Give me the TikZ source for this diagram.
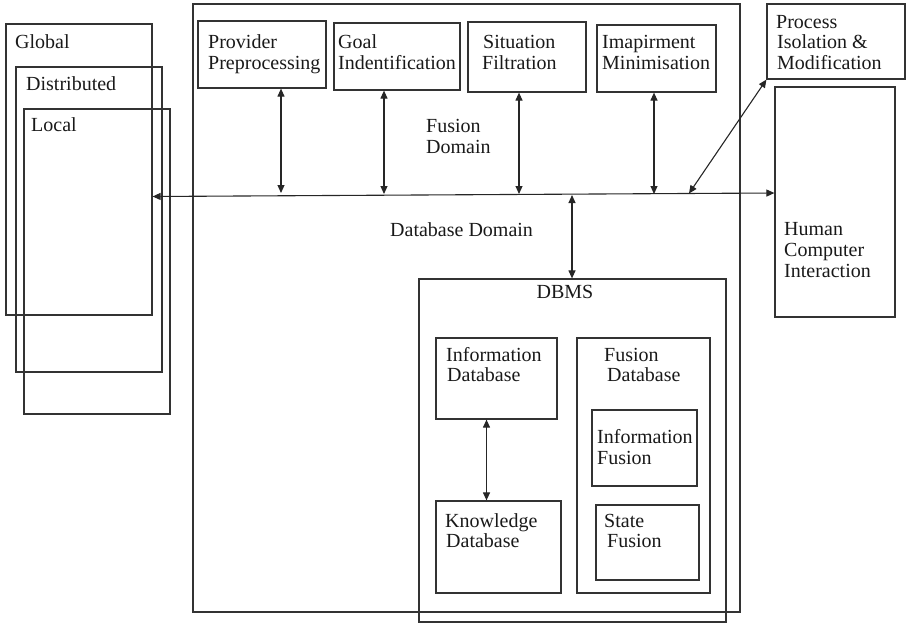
\documentclass[tikz,border=0pt]{standalone}
\usepackage{fontspec}
\setmainfont{Liberation Serif}
\usetikzlibrary{arrows.meta}
\begin{document}
\begin{tikzpicture}[x=1pt,y=-1pt,
  box/.style={draw=black!80, line width=1.2pt, inner sep=0pt, fill=none},
  lbl/.style={anchor=base west, inner sep=0pt, font=\fontsize{20}{21}\selectfont, text=black!90},
  clbl/.style={anchor=base, inner sep=0pt, font=\fontsize{20}{21}\selectfont, text=black!90},
  biarrow/.style={draw=black!85, line width=1.1pt, {Triangle[length=8pt,width=7pt]}-{Triangle[length=8pt,width=7pt]}},
  onearrow/.style={draw=black!85, line width=1.1pt, -{Triangle[length=8pt,width=7pt]}}]
\useasboundingbox (0,0) rectangle (907,624);
\newcommand\mybox[6]{\node[box, minimum width=#4pt, minimum height=#5pt] (#1) at (#2,#3) {#6};}
\newcommand\mylbl[4]{\node[lbl] (#1) at (#2,#3) {#4};}
% left stack
\mybox{global}{79}{169.5}{146}{291}{}
\mybox{distr}{89}{219.5}{146}{305}{}
\mybox{local}{97}{261.5}{146}{305}{}
\mylbl{tglobal}{15}{48}{Global}
\mylbl{tdistr}{26}{90}{Distributed}
\mylbl{tlocal}{31}{131}{Local}
% main box
\mybox{main}{466.5}{308}{547}{608}{}
% top modules
\mybox{prov}{262}{54.5}{128}{67}{}
\mybox{goal}{397}{56.5}{126}{67}{}
\mybox{sit}{527}{57}{118}{70}{}
\mybox{imp}{656.5}{58.5}{119}{67}{}
\mylbl{tprova}{208}{48}{Provider}
\mylbl{tprovb}{208}{69}{Preprocessing}
\mylbl{tgoala}{338}{48}{Goal}
\mylbl{tgoalb}{338}{69}{Indentification}
\mylbl{tsita}{483}{48}{Situation}
\mylbl{tsitb}{482}{69}{Filtration}
\mylbl{timpa}{602}{48}{Imapirment}
\mylbl{timpb}{602}{69}{Minimisation}
\mylbl{tfda}{426}{132}{Fusion}
\mylbl{tfdb}{426}{153}{Domain}
\mylbl{tdbd}{390}{236}{Database Domain}
% right side
\mybox{proc}{836}{41.5}{138}{75}{}
\mybox{hci}{835}{202}{120}{230}{}
\mylbl{tproca}{776}{28}{Process}
\mylbl{tprocb}{777}{48}{Isolation \&}
\mylbl{tprocc}{777}{69}{Modification}
\mylbl{thcia}{784}{235}{Human}
\mylbl{thcib}{784}{256}{Computer}
\mylbl{thcic}{784}{277}{Interaction}
% DBMS
\mybox{dbms}{572.5}{450.5}{307}{343}{}
\node[clbl] (tdbms) at (565,298) {DBMS};
\mybox{infodb}{496.5}{378.5}{121}{81}{}
\mybox{know}{498.5}{547}{125}{92}{}
\mybox{fusdb}{643.5}{465.5}{133}{255}{}
\mybox{infofus}{644.5}{448}{105}{76}{}
\mybox{state}{647.5}{542.5}{103}{75}{}
\mylbl{tinfoa}{446}{361}{Information}
\mylbl{tinfob}{447}{381}{Database}
\mylbl{tknowa}{445}{527}{Knowledge}
\mylbl{tknowb}{446}{547}{Database}
\mylbl{tfusa}{604}{361}{Fusion}
\mylbl{tfusb}{607}{381}{Database}
\mylbl{tiffa}{597}{443}{Information}
\mylbl{tiffb}{597}{464}{Fusion}
\mylbl{tsfa}{604}{527}{State}
\mylbl{tsfb}{607}{547}{Fusion}
% connectors
\coordinate (lineL) at (152,196.5);
\coordinate (lineR) at (775,193);
\draw[biarrow] (global.east |- lineL) -- (hci.west |- lineR);
\coordinate (a1) at (281,193);
\coordinate (a2) at (384,194);
\coordinate (a3) at (519,194);
\coordinate (a4) at (654,194);
\draw[biarrow] (a1 |- prov.south) -- (a1);
\draw[biarrow] (a2 |- goal.south) -- (a2);
\draw[biarrow] (a3 |- sit.south) -- (a3);
\draw[biarrow] (a4 |- imp.south) -- (a4);
\coordinate (diag) at (689,193.5);
\draw[biarrow] (diag) -- (proc.south west);
\coordinate (dbA) at (572,195);
\draw[biarrow] (dbA) -- (dbA |- dbms.north);
\coordinate (kA) at (486.5,419);
\draw[biarrow] (kA |- infodb.south) -- (kA |- know.north);
\end{tikzpicture}
\end{document}
